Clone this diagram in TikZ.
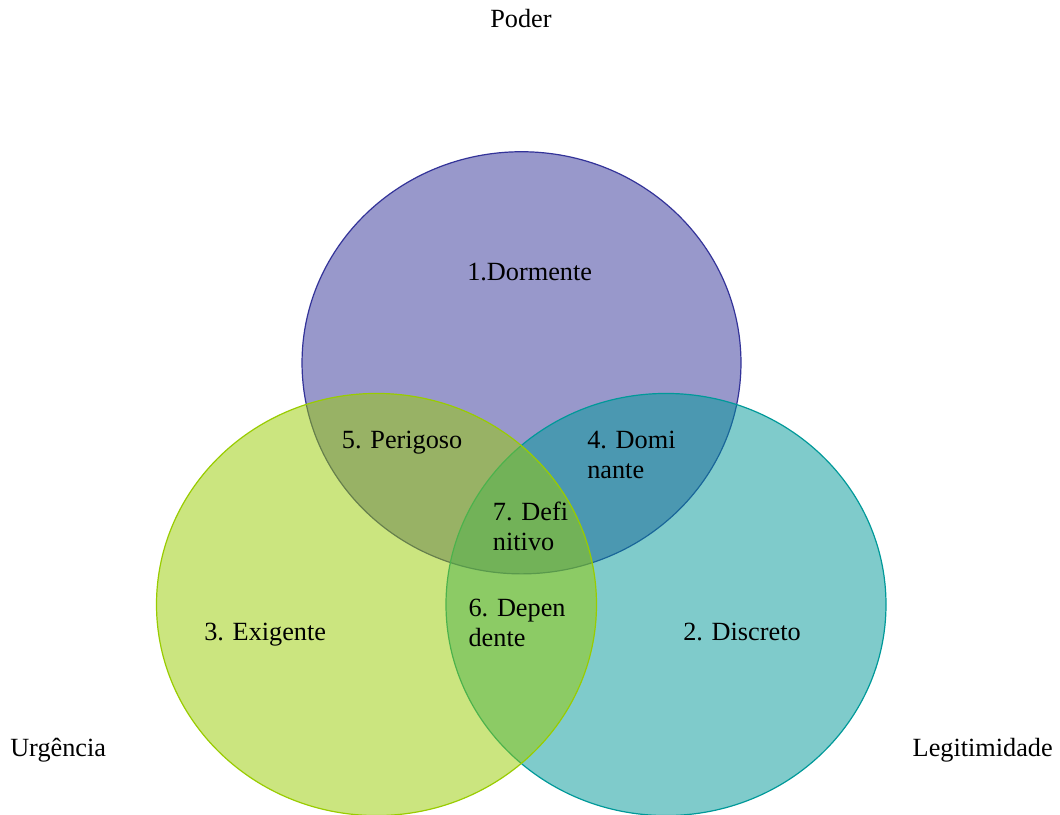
\documentclass[tikz,border=0pt]{standalone}
\usepackage{fontspec}
\setmainfont{Liberation Serif}
\definecolor{podercol}{HTML}{333399}
\definecolor{urgcol}{HTML}{99CC00}
\definecolor{legcol}{HTML}{009999}
\tikzset{
  setblob/.style={line width=0.9pt, fill opacity=0.5},
  lbl/.style={inner sep=0pt, font=\fontsize{19.7}{23}\selectfont, text=black},
}
\begin{document}
\begin{tikzpicture}[x=0.75pt,y=-0.75pt]
  \useasboundingbox (0,0) rectangle (1060,814);
  % the three sets, drawn back to front
  \fill[white] (0,0) rectangle (1060,814);
  \begin{scope}
    \clip (0,0) rectangle (1060,814);
    \draw[setblob, draw=podercol, fill=podercol] (521.5,362.8) ellipse [x radius=164.6pt, y radius=158.3pt];
    \draw[setblob, draw=legcol, fill=legcol] (666,604.5) ellipse [x radius=165pt, y radius=158.3pt];
    \draw[setblob, draw=urgcol, fill=urgcol] (376.5,604.5) ellipse [x radius=165pt, y radius=158.3pt];
  \end{scope}
  % set names
  \node[lbl, anchor=base] (poder) at (521,27.3) {Poder};
  \node[lbl, anchor=base west] (urg) at (10,756) {Urgência};
  \node[lbl, anchor=base east] (leg) at (1053,756.5) {Legitimidade};
  % regions (multi-line labels are anchored on their last line)
  \node[lbl, anchor=base west] (r1) at (467,280) {1.Dormente};
  \node[lbl, anchor=base west] (r2) at (683,640) {2. Discreto};
  \node[lbl, anchor=base west] (r3) at (204,640) {3. Exigente};
  \node[lbl, anchor=base west, align=left] (r4) at (587,478.7) {4. Domi\\nante};
  \node[lbl, anchor=base west] (r5) at (341.7,448.3) {5. Perigoso};
  \node[lbl, anchor=base west, align=left] (r6) at (468.3,646.7) {6. Depen\\dente};
  \node[lbl, anchor=base west, align=left] (r7) at (492.7,550.7) {7. Defi\\nitivo};
\end{tikzpicture}
\end{document}
